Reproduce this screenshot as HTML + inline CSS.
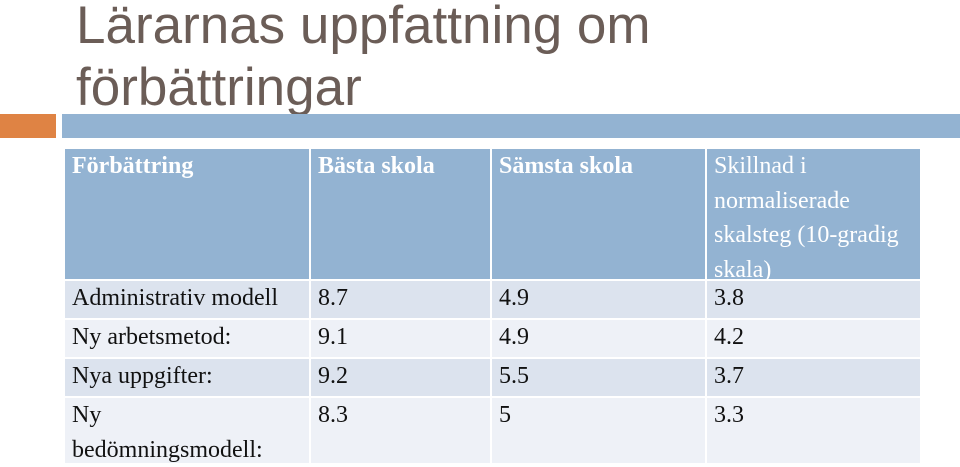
<!DOCTYPE html>
<html><head><meta charset="utf-8"><style>
body{margin:0;width:960px;height:467px;background:#fff;position:relative;overflow:hidden;font-family:"Liberation Serif",serif}
.t{position:absolute;left:76px;top:-5px;font-family:"Liberation Sans",sans-serif;font-size:53px;line-height:62px;color:#6b5d57;margin:0;font-weight:normal;white-space:nowrap}
.bar{position:absolute}
.c{position:absolute;box-sizing:border-box;padding:0 7px;font-size:24px;line-height:34.5px;color:#111;white-space:nowrap}
.h{background:#93b3d2;color:#fff;font-weight:bold}
.d{background:#dce3ee}
.l{background:#eef1f7}
</style></head><body>
<h1 class="t">Lärarnas uppfattning om<br>förbättringar</h1>
<div class="bar" style="left:0;top:114px;width:56px;height:24px;background:#df8344"></div>
<div class="bar" style="left:62px;top:114px;width:898px;height:24px;background:#93b3d2"></div>
<div>
<div class="c h" style="left:65px;top:149px;width:244px;height:130px">Förbättring</div>
<div class="c h" style="left:311px;top:149px;width:179px;height:130px">Bästa skola</div>
<div class="c h" style="left:492px;top:149px;width:213px;height:130px">Sämsta skola</div>
<div class="c h" style="left:707px;top:149px;width:213px;height:130px;font-weight:normal">Skillnad i<br>normaliserade<br>skalsteg (10-gradig<br>skala)</div>

<div class="c d" style="left:65px;top:281px;width:244px;height:37px">Administrativ modell</div>
<div class="c d" style="left:311px;top:281px;width:179px;height:37px">8.7</div>
<div class="c d" style="left:492px;top:281px;width:213px;height:37px">4.9</div>
<div class="c d" style="left:707px;top:281px;width:213px;height:37px">3.8</div>

<div class="c l" style="left:65px;top:320px;width:244px;height:37px">Ny arbetsmetod:</div>
<div class="c l" style="left:311px;top:320px;width:179px;height:37px">9.1</div>
<div class="c l" style="left:492px;top:320px;width:213px;height:37px">4.9</div>
<div class="c l" style="left:707px;top:320px;width:213px;height:37px">4.2</div>

<div class="c d" style="left:65px;top:359px;width:244px;height:37px">Nya uppgifter:</div>
<div class="c d" style="left:311px;top:359px;width:179px;height:37px">9.2</div>
<div class="c d" style="left:492px;top:359px;width:213px;height:37px">5.5</div>
<div class="c d" style="left:707px;top:359px;width:213px;height:37px">3.7</div>

<div class="c l" style="left:65px;top:398px;width:244px;height:65px">Ny<br>bedömningsmodell:</div>
<div class="c l" style="left:311px;top:398px;width:179px;height:65px">8.3</div>
<div class="c l" style="left:492px;top:398px;width:213px;height:65px">5</div>
<div class="c l" style="left:707px;top:398px;width:213px;height:65px">3.3</div>
</div>
</body></html>
